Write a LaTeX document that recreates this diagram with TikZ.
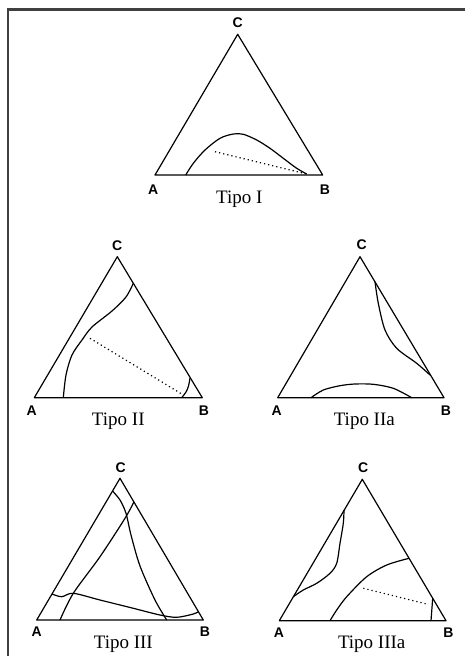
\documentclass[tikz,border=0pt]{standalone}
\usepackage{fontspec}
\setmainfont{Liberation Serif}
\newfontfamily\vlabfont{Liberation Sans}
\begin{document}
\begin{tikzpicture}[x=1pt,y=-1pt,
  tri/.style={line width=1.2pt, line join=round},
  crv/.style={line width=1.2pt, smooth, tension=0.5},
  tie/.style={line width=1.2pt, dash pattern=on 1.2pt off 3pt},
  vlab/.style={font=\vlabfont\bfseries\fontsize{14}{14}\selectfont, inner sep=0pt},
  title/.style={font=\fontsize{19}{19}\selectfont, inner sep=0pt},
  frame/.style={line width=2.2pt, draw=black!75}]
\useasboundingbox (0,0) rectangle (465,656);
\draw[frame] (8,656) -- (8,9.5) -- (465,9.5);

% ---------- Tipo I ----------
\coordinate (A1) at (155,175); \coordinate (B1) at (322.7,175); \coordinate (C1) at (237.7,34.3);
\draw[tri] (A1) -- (B1) -- (C1) -- cycle;
\node[vlab] (lA1) at (153.3,190) {A};
\node[vlab] (lB1) at (325,190) {B};
\node[vlab] (lC1) at (237.7,23) {C};
\node[title] (t1) at (239.3,199) {Tipo I};
\draw[crv] plot coordinates {(185.7,175) (193.3,163.3) (205,150) (220,138.3) (233.3,134) (243.3,134.3) (256.7,140) (270,148.3) (283.3,158.3) (296.7,168.3) (306.7,174)};
\coordinate (d1a) at (215,151.7); \coordinate (d1b) at (306.7,174);
\draw[tie] (d1a) -- (d1b);

% ---------- Tipo II ----------
\coordinate (A2) at (34.3,397.7); \coordinate (B2) at (202.3,397.7); \coordinate (C2) at (117.3,256.7);
\draw[tri] (A2) -- (B2) -- (C2) -- cycle;
\node[vlab] (lA2) at (31.7,411) {A};
\node[vlab] (lB2) at (204,411) {B};
\node[vlab] (lC2) at (117.3,245.5) {C};
\node[title] (t2) at (118.3,421) {Tipo II};
\draw[crv] plot coordinates {(63.3,397.7) (66,375) (72,355) (82,340) (92,327) (112,311) (126,297) (133.3,283.3)};
\draw[crv] plot coordinates {(181.7,397.7) (186,392) (188.5,386) (190,378)};
\coordinate (d2a) at (90,338.3); \coordinate (d2b) at (181.7,394);
\draw[tie] (d2a) -- (d2b);

% ---------- Tipo IIa ----------
\coordinate (A3) at (277.7,397.7); \coordinate (B3) at (444,397.7); \coordinate (C3) at (360,256.7);
\draw[tri] (A3) -- (B3) -- (C3) -- cycle;
\node[vlab] (lA3) at (276.7,411) {A};
\node[vlab] (lB3) at (446,411) {B};
\node[vlab] (lC3) at (361.7,245) {C};
\node[title] (t3) at (364.3,421) {Tipo IIa};
\draw[crv] plot coordinates {(311,397.7) (323.3,390) (340,385.7) (355,384) (373.3,384.3) (393.3,388.3) (411.7,397.7)};
\draw[crv] plot coordinates {(375,281.7) (378.3,303.3) (385,330) (396.7,348.3) (416.7,363.3) (430,375)};

% ---------- Tipo III ----------
\coordinate (A4) at (36.7,620); \coordinate (B4) at (203.3,620); \coordinate (C4) at (120,478.3);
\draw[tri] (A4) -- (B4) -- (C4) -- cycle;
\node[vlab] (lA4) at (36.7,632) {A};
\node[vlab] (lB4) at (205,632) {B};
\node[vlab] (lC4) at (120.7,467.7) {C};
\node[title] (t4) at (123.3,644) {Tipo III};
\draw[crv] plot coordinates {(112.5,491) (120,500) (126,513.3) (131,535) (140,566) (155,600) (166.7,620)};
\draw[crv] plot coordinates {(134,501.7) (125,518.3) (100,556.7) (73.3,593.3) (60,620)};
\draw[crv] plot coordinates {(52,594) (61.7,596.7) (73.3,593.3) (100,600) (133.3,608.3) (160,615) (176.7,617.3) (193.3,614) (198.5,611.7)};

% ---------- Tipo IIIa ----------
\coordinate (A5) at (279.3,620.7); \coordinate (B5) at (446,620.7); \coordinate (C5) at (362.3,479.3);
\draw[tri] (A5) -- (B5) -- (C5) -- cycle;
\node[vlab] (lA5) at (279,633) {A};
\node[vlab] (lB5) at (448.3,633) {B};
\node[vlab] (lC5) at (363.3,467.7) {C};
\node[title] (t5) at (371.7,644) {Tipo IIIa};
\draw[crv] plot coordinates {(344,510) (343.3,523.3) (340,543.3) (336.7,563.3) (330,573.3) (316.7,583.3) (303.3,590) (293.3,596.7)};
\draw[crv] plot coordinates {(330,620.7) (336.7,610) (346.7,596.7) (366.7,576.7) (386.7,565) (409,558.3)};
\coordinate (d5a) at (363.3,588.3); \coordinate (d5b) at (426.7,604);
\draw[tie] (d5a) -- (d5b);
\coordinate (s5a) at (432.7,598.3); \coordinate (s5b) at (431,620.7);
\draw[tri] (s5a) -- (s5b);
\end{tikzpicture}
\end{document}
